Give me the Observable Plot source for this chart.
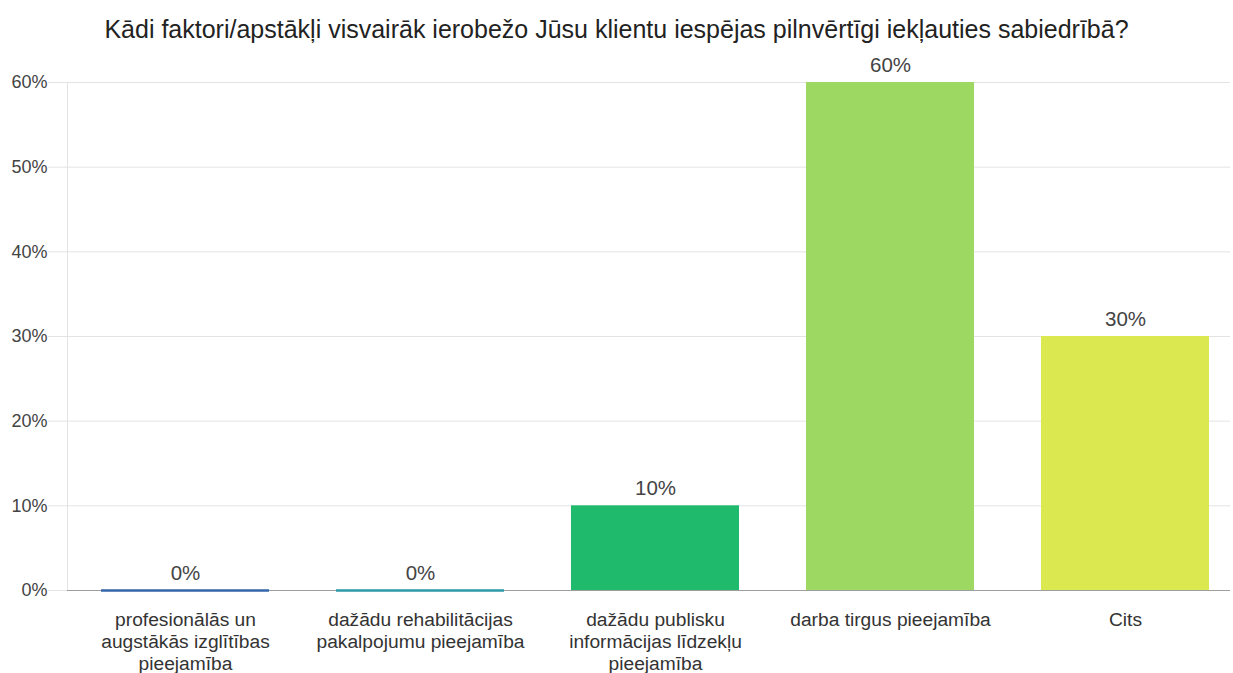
<!DOCTYPE html>
<html>
<head>
<meta charset="utf-8">
<script src="https://cdn.jsdelivr.net/npm/d3@7"></script>
<script src="https://cdn.jsdelivr.net/npm/@observablehq/plot@0.6"></script>
<style>
  html, body { margin: 0; padding: 0; background: #fff; }
  #title { width: 1233px; height: 50px; line-height: 58px; text-align: center; font-family: "Liberation Sans", Arial, sans-serif; font-size: 25px; color: #222; }
  svg { display: block; }
</style>
</head>
<body>
<div id="title">Kādi faktori/apstākļi visvairāk ierobežo Jūsu klientu iespējas pilnvērtīgi iekļauties sabiedrībā?</div>
<div id="chart"></div>
<script>
const categories = [
  "profesionālās un augstākās izglītības pieejamība",
  "dažādu rehabilitācijas pakalpojumu pieejamība",
  "dažādu publisku informācijas līdzekļu pieejamība",
  "darba tirgus pieejamība",
  "Cits"
];
const categoryLabels = [
  "profesionālās un\naugstākās izglītības\npieejamība",
  "dažādu rehabilitācijas\npakalpojumu pieejamība",
  "dažādu publisku\ninformācijas līdzekļu\npieejamība",
  "darba tirgus pieejamība",
  "Cits"
];
const values = [0, 0, 10, 60, 30];
const colors = ["#3366aa", "#2b9aa6", "#1fba6c", "#9dd862", "#dbe84f"];
const yTicks = [0, 10, 20, 30, 40, 50, 60];

const data = categories.map((c, i) => ({cat: c, v: values[i], color: colors[i]}));
const labelOf = new Map(categories.map((c, i) => [c, categoryLabels[i]]));

const chart = Plot.plot({
  width: 1233,
  height: 623,
  marginTop: 32,
  marginBottom: 83,
  marginLeft: 67,
  marginRight: 3,
  style: {fontFamily: "'Liberation Sans', Arial, sans-serif", background: "#fff"},
  x: {domain: categories, range: [66, 1244], paddingInner: 0.283, paddingOuter: 0.1415},
  y: {domain: [0, 60]},
  marks: [
    Plot.gridY(yTicks, {stroke: "#e3e3e3", strokeOpacity: 1}),
    Plot.frame({anchor: "left", stroke: "#e3e3e3"}),
    Plot.axisY(yTicks, {tickSize: 19, tickPadding: 1, stroke: "#e3e3e3", strokeOpacity: 1, tickFormat: d => d + "%", fontSize: 18, fill: "#444", label: null}),
    Plot.barY(data, {x: "cat", y: "v", fill: "color"}),
    Plot.ruleY([0], {stroke: "#9e9e9e", strokeWidth: 1}),
    Plot.tickY(data.filter(d => d.v === 0), {x: "cat", y: "v", stroke: "color", strokeWidth: 2.5}),
    Plot.text(data, {x: "cat", y: "v", text: d => d.v + "%", dy: -17, fontSize: 20.5, fill: "#444"}),
    Plot.axisX({tickSize: 0, tickPadding: 20, tickFormat: d => labelOf.get(d), fontSize: 19.2, fill: "#333", lineHeight: 1.15, label: null})
  ]
});
document.getElementById("chart").appendChild(chart);
</script>
</body>
</html>
